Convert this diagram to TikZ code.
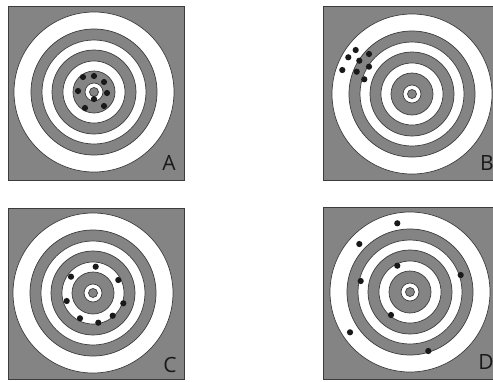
\documentclass[tikz,border=0pt]{standalone}
\usepackage{fontspec}
\setmainfont{Open Sans}
\definecolor{tgray}{RGB}{132,132,132}
\definecolor{tline}{RGB}{60,60,60}
\definecolor{tdot}{RGB}{25,25,25}
\tikzset{
  panel/.style={fill=tgray,draw=tline,line width=0.8pt},
  wring/.style={fill=white,draw=tline,line width=0.7pt},
  gring/.style={fill=tgray,draw=tline,line width=0.7pt},
  hit/.style={fill=tdot,draw=none},
  tlabel/.style={inner sep=0pt,text=tdot,font=\fontsize{21}{21}\selectfont}
}
\newcommand{\tgt}[2]{%
  \path[wring] (#1,#2) circle (80);
  \path[gring] (#1,#2) circle (63);
  \path[wring] (#1,#2) circle (52);
  \path[gring] (#1,#2) circle (42);
  \path[wring] (#1,#2) circle (31);
  \path[gring] (#1,#2) circle (21);
  \path[wring] (#1,#2) circle (9);
  \path[gring] (#1,#2) circle (4.5);
}
\newcommand{\hitat}[2]{\fill[hit] (#1,#2) circle (3.1);}
\begin{document}
\begin{tikzpicture}[x=1pt,y=-1pt]
\useasboundingbox (0,0) rectangle (493,381);
\fill[white] (0,0) rectangle (493,381);
\clip (0,0) rectangle (493,381);
% panel A
\draw[panel] (8,6) rectangle (184,180);
\tgt{94}{92}
\foreach \x/\y in {83/77,94/76,104/82,78/91,107/93,94/99,85/108,104/106} {\hitat{\x}{\y}}
\node[tlabel] (la) at (169,163) {A};
% panel B
\draw[panel] (323,6) rectangle (500,180);
\tgt{412}{94}
\foreach \x/\y in {355.7/50,348.3/57.3,359.3/60.7,369/54,342.3/70,356.7/71.7,369/66.7,364.3/79.3} {\hitat{\x}{\y}}
\node[tlabel] (lb) at (487,163) {B};
% panel C
\draw[panel] (8,208) rectangle (184,379);
\tgt{93}{293}
\foreach \x/\y in {95.7/266.7,71/276.7,118.3/280,66.7/301,123.3/303.3,80/318.3,112.7/315.7,98.3/322.7} {\hitat{\x}{\y}}
\node[tlabel] (lc) at (170,365) {C};
% panel D
\draw[panel] (323,207) rectangle (500,379);
\tgt{410}{292}
\foreach \x/\y in {397.3/223.3,359.3/244,397.3/265.7,360.7/281,460.7/275,391/315,350/332.3,428.3/351} {\hitat{\x}{\y}}
\node[tlabel] (ld) at (486,362) {D};
\end{tikzpicture}
\end{document}
